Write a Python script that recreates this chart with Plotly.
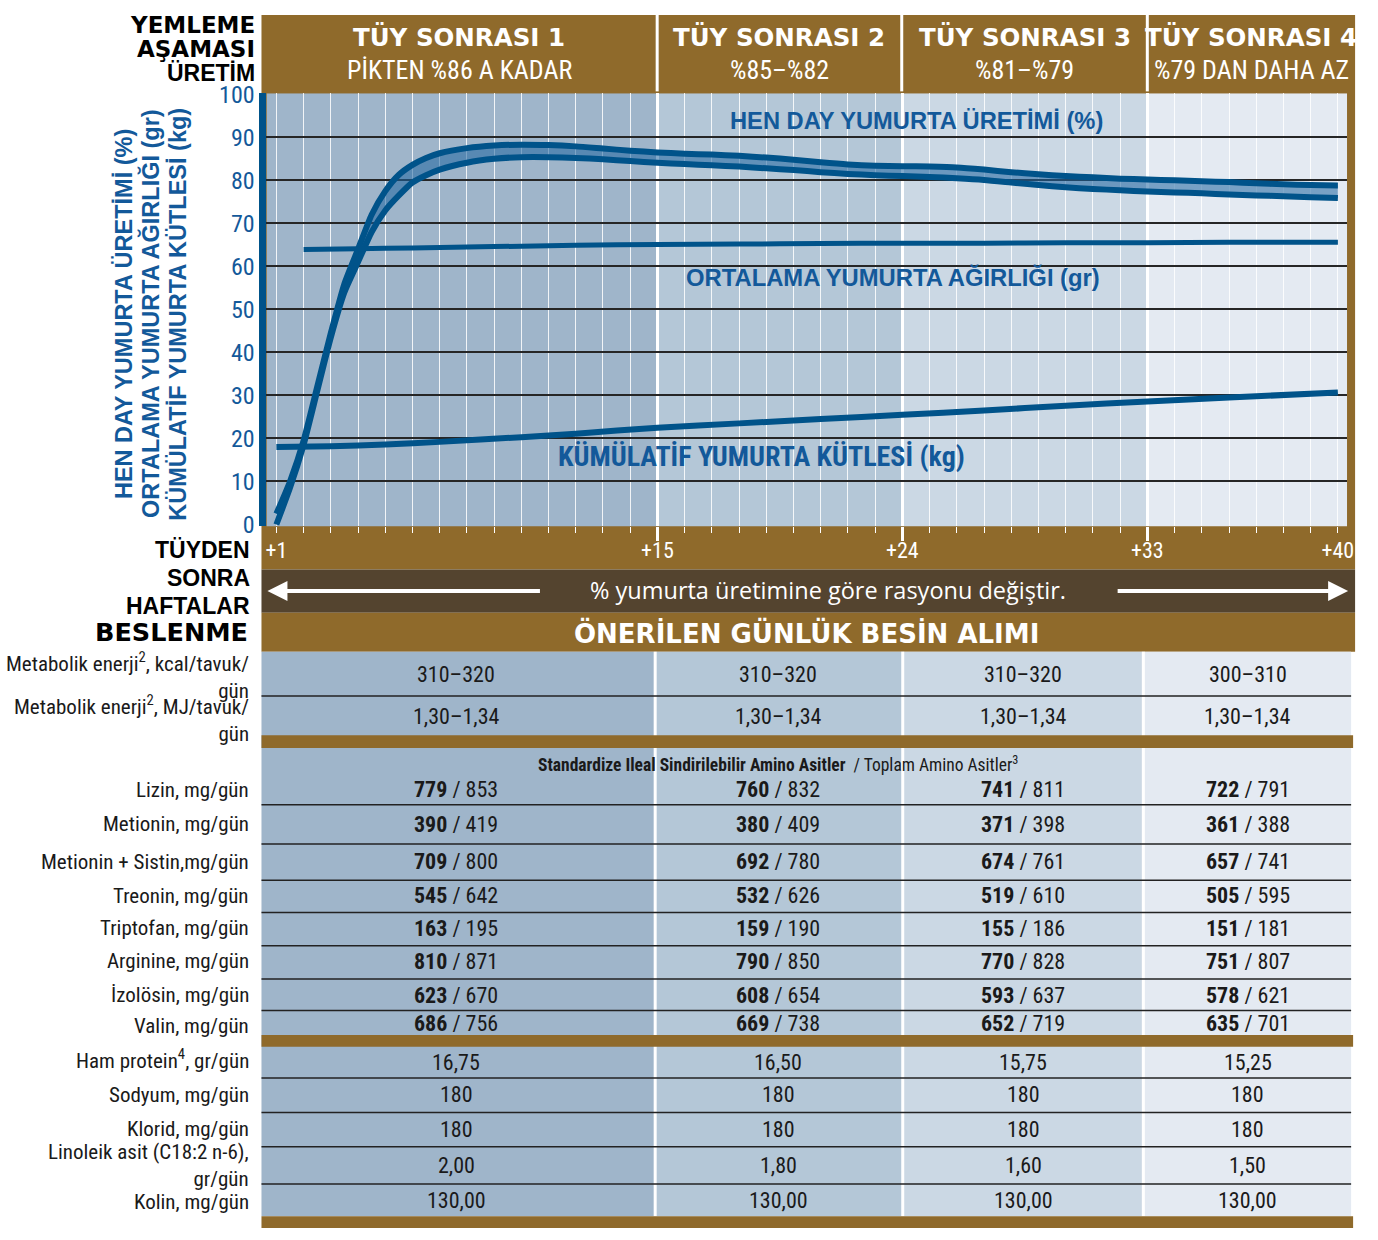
import plotly.graph_objects as go

W, H = 1378, 1240


def px(x):
    return x / W


def py(y):
    return 1 - y / H


# ---------------- DATA ----------------
stage_titles = ["TÜY SONRASI 1", "TÜY SONRASI 2", "TÜY SONRASI 3", "TÜY SONRASI 4"]
stage_subtitles = ["PİKTEN %86 A KADAR", "%85–%82", "%81–%79", "%79 DAN DAHA AZ"]
stage_start_weeks = [1, 15, 24, 33]
stage_end_week = 40

week_tick_vals = [1, 15, 24, 33, 40]
week_tick_text = ["+1", "+15", "+24", "+33", "+40"]
y_tick_vals = [0, 10, 20, 30, 40, 50, 60, 70, 80, 90, 100]
y_grid_vals = [10, 20, 30, 40, 50, 60, 70, 80, 90]

weeks_hd = [1, 1.5, 2, 2.5, 3, 3.5, 4, 4.5, 5, 5.5, 6, 6.5, 7, 8, 9, 10, 11, 12, 13, 14, 15,
            16, 17, 18, 19, 20, 21, 22, 23, 24, 25, 26, 27, 28, 29, 30, 31, 32, 33, 34, 35,
            36, 37, 38, 39, 40]
hd_upper = [2.5, 10, 19.5, 32, 44.5, 56, 64, 72, 77.5, 81.3, 83.6, 85.2, 86.3, 87.5, 88.1,
            88.3, 88.2, 87.9, 87.4, 86.9, 86.5, 86.2, 86.0, 85.7, 85.3, 84.8, 84.2, 83.7,
            83.4, 83.3, 83.2, 83.0, 82.5, 81.9, 81.4, 81.0, 80.7, 80.4, 80.2, 80.0, 79.8,
            79.6, 79.3, 79.1, 78.9, 78.8]
hd_lower = [0, 8.5, 18.5, 31, 43.5, 54, 61, 68, 73, 76.5, 79.5, 81.2, 82.5, 84.1, 85.0,
            85.4, 85.4, 85.2, 84.9, 84.5, 84.1, 83.8, 83.5, 83.2, 82.8, 82.4, 81.9, 81.5,
            81.2, 81.0, 80.8, 80.5, 80.1, 79.5, 78.9, 78.4, 78.0, 77.7, 77.4, 77.2, 77.0,
            76.7, 76.5, 76.3, 76.1, 75.9]

weeks_egg = [2, 4, 6, 8, 10, 12, 15, 18, 21, 24, 27, 30, 33, 36, 40]
egg_weight = [63.9, 64.1, 64.3, 64.5, 64.7, 64.9, 65.1, 65.2, 65.3, 65.4, 65.4, 65.5, 65.5,
              65.6, 65.6]

weeks_mass = [1, 3, 5, 7, 10, 12, 15, 18, 21, 24, 27, 30, 33, 36, 40]
egg_mass = [18.0, 18.2, 18.6, 19.2, 20.3, 21.1, 22.5, 23.5, 24.5, 25.5, 26.5, 27.6, 28.6,
            29.5, 30.7]

row_labels = [
    "Metabolik enerji<sup>2</sup>, kcal/tavuk/<br>gün",
    "Metabolik enerji<sup>2</sup>, MJ/tavuk/<br>gün",
    "Lizin, mg/gün",
    "Metionin, mg/gün",
    "Metionin + Sistin,mg/gün",
    "Treonin, mg/gün",
    "Triptofan, mg/gün",
    "Arginine, mg/gün",
    "İzolösin, mg/gün",
    "Valin, mg/gün",
    "Ham protein<sup>4</sup>, gr/gün",
    "Sodyum, mg/gün",
    "Klorid, mg/gün",
    "Linoleik asit (C18:2 n-6),<br>gr/gün",
    "Kolin, mg/gün",
]
energy_kcal = ["310–320", "310–320", "310–320", "300–310"]
energy_mj = ["1,30–1,34", "1,30–1,34", "1,30–1,34", "1,30–1,34"]
lizin_sid = [779, 760, 741, 722]
lizin_tot = [853, 832, 811, 791]
metionin_sid = [390, 380, 371, 361]
metionin_tot = [419, 409, 398, 388]
metsis_sid = [709, 692, 674, 657]
metsis_tot = [800, 780, 761, 741]
treonin_sid = [545, 532, 519, 505]
treonin_tot = [642, 626, 610, 595]
triptofan_sid = [163, 159, 155, 151]
triptofan_tot = [195, 190, 186, 181]
arginine_sid = [810, 790, 770, 751]
arginine_tot = [871, 850, 828, 807]
izolosin_sid = [623, 608, 593, 578]
izolosin_tot = [670, 654, 637, 621]
valin_sid = [686, 669, 652, 635]
valin_tot = [756, 738, 719, 701]
ham_protein = ["16,75", "16,50", "15,75", "15,25"]
sodyum = ["180", "180", "180", "180"]
klorid = ["180", "180", "180", "180"]
linoleik = ["2,00", "1,80", "1,60", "1,50"]
kolin = ["130,00", "130,00", "130,00", "130,00"]

# ---------------- STYLE ----------------
BROWN = "#8f6a2b"
DARK = "#54442f"
BLUE = "#00538a"
TBLUE = "#13599a"
STAGE_COLORS = ["#9fb5ca", "#b4c7d7", "#cbd8e4", "#e4eaf2"]
NARROW = "Liberation Sans Narrow, Arial Narrow, Roboto Condensed, sans-serif"
BOLD = "Liberation Sans, Arial, sans-serif"
HEAVY = "DejaVu Sans, Liberation Sans, sans-serif"
TEXT = "#1a1a1a"

X_RANGE = [0.635, 40.34]
Y_RANGE = [-0.46, 100.23]

fig = go.Figure()

fig.add_trace(go.Scatter(x=weeks_hd, y=hd_upper, mode="lines", hoverinfo="skip",
                         line=dict(color=BLUE, width=6, shape="spline", smoothing=0.6)))
fig.add_trace(go.Scatter(x=weeks_hd, y=hd_lower, mode="lines", hoverinfo="skip",
                         fill="tonexty", fillcolor="rgba(30,100,160,0.55)",
                         line=dict(color=BLUE, width=6, shape="spline", smoothing=0.6)))
fig.add_trace(go.Scatter(x=weeks_egg, y=egg_weight, mode="lines", hoverinfo="skip",
                         line=dict(color=BLUE, width=5, shape="spline", smoothing=0.6)))
fig.add_trace(go.Scatter(x=weeks_mass, y=egg_mass, mode="lines", hoverinfo="skip",
                         line=dict(color=BLUE, width=6, shape="spline", smoothing=0.6)))
# overlay axes carrying the tick labels
fig.add_trace(go.Scatter(x=[week_tick_vals[0], week_tick_vals[-1]], y=[None, None],
                         xaxis="x2", yaxis="y2", mode="lines", hoverinfo="skip"))

shapes = []
annotations = []


def ann(x, y, text, family, size, color, xanchor="center", **kw):
    annotations.append(dict(x=px(x), y=py(y), xref="paper", yref="paper", text=text,
                            showarrow=False, xanchor=xanchor, yanchor="middle",
                            font=dict(family=family, size=size, color=color), **kw))


# brown frame behind chart header / axis band
shapes.append(dict(type="rect", xref="paper", yref="paper", x0=px(262), x1=px(1362),
                   y0=py(568), y1=py(2), fillcolor=BROWN, line_width=0, layer="below"))
# stage backgrounds in the plot
bounds = [X_RANGE[0]] + stage_start_weeks[1:] + [X_RANGE[1]]
for i in range(4):
    shapes.append(dict(type="rect", xref="x", yref="y", x0=bounds[i], x1=bounds[i + 1],
                       y0=Y_RANGE[0], y1=Y_RANGE[1], fillcolor=STAGE_COLORS[i],
                       line_width=0, layer="below"))
# header dividers
for xd in [660, 906, 1153]:
    shapes.append(dict(type="line", xref="paper", yref="paper", x0=px(xd), x1=px(xd),
                       y0=py(80), y1=py(2), line=dict(color="white", width=3)))
# header texts
header_edges = [262, 660, 906, 1153, 1362]
for i in range(4):
    cx = (header_edges[i] + header_edges[i + 1]) / 2
    ann(cx, 25, "<b>" + stage_titles[i] + "</b>", HEAVY, 24.5, "white")
    ann(cx, 58, stage_subtitles[i], NARROW, 26, "white")

# left header labels
for t, yy, fam in zip(["YEMLEME", "AŞAMASI", "ÜRETİM"], [12, 37, 61], [HEAVY, HEAVY, BOLD]):
    ann(257, yy, "<b>" + t + "</b>", fam, 23, "black", xanchor="right")
for t, yy in zip(["TÜYDEN", "SONRA", "HAFTALAR"], [548, 577, 605]):
    ann(252, yy, "<b>" + t + "</b>", BOLD, 23, "black", xanchor="right")

# y-axis title (three rotated lines)
for t, xx in zip(["HEN DAY YUMURTA ÜRETİMİ (%)", "ORTALAMA YUMURTA AĞIRLIĞI (gr)",
                  "KÜMÜLATİF YUMURTA KÜTLESİ (kg)"], [124, 151, 178]):
    ann(xx, 307, "<b>" + t + "</b>", BOLD, 23.5, TBLUE, textangle=-90)

# in-chart labels
ann(921, 110, "<b>HEN DAY YUMURTA ÜRETİMİ (%)</b>", BOLD, 23.7, TBLUE)
ann(897, 270, "<b>ORTALAMA YUMURTA AĞIRLIĞI (gr)</b>", BOLD, 23.8, TBLUE)
ann(765, 453, "<b>KÜMÜLATİF YUMURTA KÜTLESİ (kg)</b>", NARROW, 28, TBLUE)

# dark band with arrows
shapes.append(dict(type="rect", xref="paper", yref="paper", x0=px(262), x1=px(1362),
                   y0=py(612), y1=py(568), fillcolor=DARK, line_width=0))
ann(832, 589, "% yumurta üretimine göre rasyonu değiştir.", "Open Sans, sans-serif", 23.5,
    "white")
annotations.append(dict(x=px(268), y=py(590), xref="paper", yref="paper", text="",
                        showarrow=True, arrowhead=2, arrowsize=1, arrowwidth=4,
                        arrowcolor="white", ax=274, ay=0))
annotations.append(dict(x=px(1355), y=py(590), xref="paper", yref="paper", text="",
                        showarrow=True, arrowhead=2, arrowsize=1, arrowwidth=4,
                        arrowcolor="white", ax=-232, ay=0))

# recommendation band
shapes.append(dict(type="rect", xref="paper", yref="paper", x0=px(262), x1=px(1362),
                   y0=py(652), y1=py(612), fillcolor=BROWN, line_width=0))
ann(810, 633, "<b>ÖNERİLEN GÜNLÜK BESİN ALIMI</b>", HEAVY, 26, "white")
ann(250, 632, "<b>BESLENME</b>", HEAVY, 25.5, "black", xanchor="right")

# ---------------- TABLE ----------------
col_edges = [262, 658, 907, 1149, 1358]
col_centers = [458, 782, 1028, 1254]
for i in range(4):
    shapes.append(dict(type="rect", xref="paper", yref="paper", x0=px(col_edges[i]),
                       x1=px(col_edges[i + 1]), y0=py(1228), y1=py(652),
                       fillcolor=STAGE_COLORS[i], line_width=0))
for xd in col_edges[1:4]:
    shapes.append(dict(type="line", xref="paper", yref="paper", x0=px(xd), x1=px(xd),
                       y0=py(1228), y1=py(652), line=dict(color="white", width=3)))
for y0, y1 in [(737, 750), (1043, 1055), (1228, 1240)]:
    shapes.append(dict(type="rect", xref="paper", yref="paper", x0=px(262), x1=px(1360),
                       y0=py(y1), y1=py(y0), fillcolor=BROWN, line_width=0))
for yl in [697, 808, 848, 885, 918, 952, 986, 1018, 1087, 1122, 1157, 1195]:
    shapes.append(dict(type="line", xref="paper", yref="paper", x0=px(262), x1=px(1358),
                       y0=py(yl), y1=py(yl), line=dict(color="#222222", width=1.5)))

ann(782, 766,
    "<b>Standardize Ileal Sindirilebilir Amino Asitler</b>  / Toplam Amino Asitler<sup>3</sup>",
    NARROW, 17.5, TEXT)

simple_rows = [(energy_kcal, 675), (energy_mj, 718), (ham_protein, 1071), (sodyum, 1104),
               (klorid, 1139), (linoleik, 1176), (kolin, 1212)]
for vals, yy in simple_rows:
    for i in range(4):
        ann(col_centers[i], yy, vals[i], NARROW, 22, TEXT)
amino_rows = [(lizin_sid, lizin_tot, 792), (metionin_sid, metionin_tot, 828),
              (metsis_sid, metsis_tot, 866), (treonin_sid, treonin_tot, 901),
              (triptofan_sid, triptofan_tot, 934), (arginine_sid, arginine_tot, 968),
              (izolosin_sid, izolosin_tot, 1003), (valin_sid, valin_tot, 1031)]
for sid, tot, yy in amino_rows:
    for i in range(4):
        ann(col_centers[i], yy, "<b>%d</b> / %d" % (sid[i], tot[i]), NARROW, 22, TEXT)

label_y = [676, 720, 793, 828, 866, 901, 934, 968, 1002, 1034, 1068, 1104, 1139, 1176, 1213]
for lab, yy in zip(row_labels, label_y):
    ann(251, yy, lab, NARROW, 21, TEXT, xanchor="right", align="right")

fig.update_layout(
    width=W, height=H, margin=dict(l=0, r=0, t=0, b=0),
    paper_bgcolor="white", plot_bgcolor="rgba(0,0,0,0)", showlegend=False,
    xaxis=dict(domain=[px(267), px(1354)], range=X_RANGE, anchor="y",
               tickvals=stage_start_weeks[1:], showticklabels=False, ticks="outside",
               ticklen=14, tickwidth=3, tickcolor="white", showgrid=True,
               gridcolor="white", gridwidth=3, zeroline=False, showline=False,
               minor=dict(tick0=0, dtick=1, ticks="outside", ticklen=6, tickwidth=1.3,
                          tickcolor="white", showgrid=True,
                          gridcolor="rgba(255,255,255,0.85)", gridwidth=1.3),
               fixedrange=True),
    yaxis=dict(domain=[py(524), py(82)], range=Y_RANGE, anchor="x",
               tickvals=y_grid_vals, showticklabels=False, ticks="", showgrid=True,
               gridcolor="#262626", gridwidth=1.6, zeroline=False, showline=False,
               fixedrange=True),
    xaxis2=dict(overlaying="x", range=X_RANGE, anchor="y2", tickvals=week_tick_vals,
                ticktext=week_tick_text, ticks="", showgrid=False, zeroline=False,
                showline=False, ticklabelstandoff=9,
                tickfont=dict(family=NARROW, size=22, color="white"), fixedrange=True),
    yaxis2=dict(overlaying="y", range=Y_RANGE, anchor="x2", side="left",
                tickvals=y_tick_vals, ticks="", showgrid=False, zeroline=False,
                showline=True, linecolor=BLUE, linewidth=7, ticklabelstandoff=0,
                tickfont=dict(family=NARROW, size=24, color=TBLUE), fixedrange=True),
    shapes=shapes, annotations=annotations,
)

fig.write_html("out.html", config={"displayModeBar": False},
               post_script="document.body.style.margin='0';")
